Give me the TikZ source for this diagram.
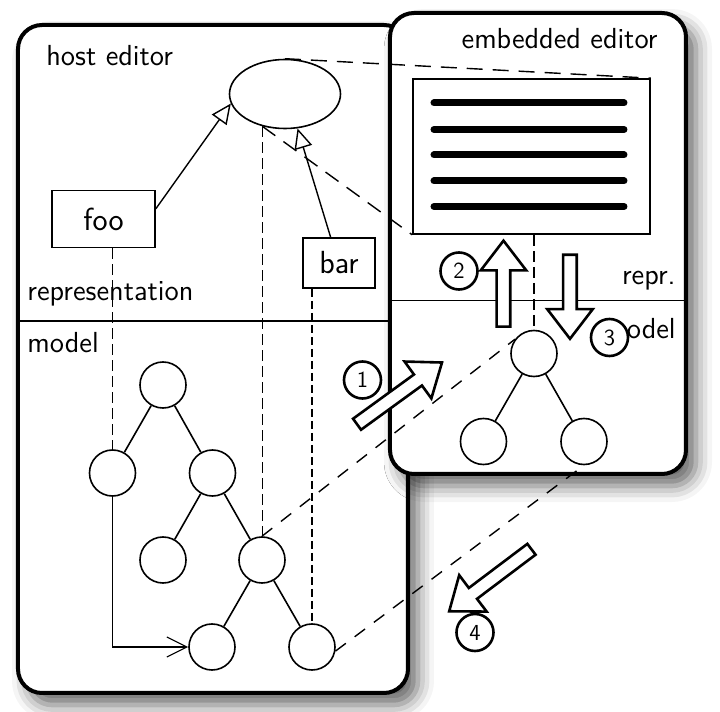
\documentclass[tikz,border=0pt]{standalone}
\usepackage{fontspec}
\usepackage{tikz}
\usetikzlibrary{positioning,shapes.geometric,shapes.arrows,arrows.meta,shadows.blur}

\begin{document}
\begin{tikzpicture}[
		x=0.5pt, y=-0.5pt,
		% Define the styles used below
		every node/.style={font=\sffamily\fontsize{14.5}{17}\selectfont},
		editor box/.style={draw, line width=2pt, fill=white, rounded corners=12pt,
			blur shadow={shadow xshift=5pt, shadow yshift=-6pt, shadow blur radius=8pt, shadow opacity=60}},
		caption/.style={inner sep=0pt},
		tree node/.style={circle, draw, line width=0.8pt, minimum size=23pt, inner sep=0pt},
		label box/.style={rectangle, draw, line width=0.8pt, inner sep=0pt, font=\sffamily\fontsize{16}{18}\selectfont},
		step arrow/.style={single arrow, draw, fill=white, line width=1.3pt, minimum width=22pt,
			single arrow head extend=8pt, single arrow tip angle=75, inner xsep=0pt, inner ysep=2.75pt, anchor=tail},
		step num/.style={circle, draw, fill=white, line width=1.3pt, minimum size=18.5pt, inner sep=0pt,
			font=\sffamily\fontsize{11.5}{13}\selectfont},
		link/.style={line width=0.6pt, dash pattern=on 5.5pt off 2.5pt},
		map link/.style={line width=1pt, dash pattern=on 4pt off 2pt},
		view link/.style={line width=0.7pt, dash pattern=on 8pt off 5pt},
		tree link/.style={line width=0.7pt, dash pattern=on 6.5pt off 5.5pt},
		inherits/.style={line width=0.7pt, -{Triangle[open, length=10pt, width=9pt]}}
	]
	\useasboundingbox (0,0) rectangle (720,712);
	
	% --- host editor ---
	\draw[editor box] (18,25) rectangle (408,693);
	\draw[line width=0.8pt] (18,321) -- (408,321);
	\node[caption, anchor=base west] (hosttitle) at (46,66) {host editor};
	\node[caption, anchor=base west] (hostrepr) at (27,300) {representation};
	\node[caption, anchor=base west] (hostmodel) at (27,353) {model};
	
	% --- embedded editor ---
	\draw[editor box] (390,13) rectangle (686,474);
	\draw[line width=0.8pt] (390,300.5) -- (686,300.5);
	\node[caption, anchor=base east] (embtitle) at (658,48) {embedded editor};
	\node[caption, anchor=base east] (embrepr) at (676,285) {repr.};
	\node[caption, anchor=base east] (embmodel) at (676,339) {model};
	
	% --- representation nodes ---
	\node[ellipse, draw, line width=0.8pt, minimum width=55.5pt, minimum height=34.5pt, inner sep=0pt] (view) at (285,94) {};
	\node[label box, minimum width=51.5pt, minimum height=28.5pt] (foo) at (103.5,219) {foo};
	\node[label box, minimum width=36pt, minimum height=25pt] (bar) at (339,263) {bar};
	\node[draw, line width=0.8pt, fill=white, minimum width=118.5pt, minimum height=77.5pt, inner sep=0pt] (screen) at (531.5,156.5) {};
	\foreach \y in {103,129.5,155,181,206.5}
		\draw[line width=3.5pt, line cap=round] (434,\y) -- (624,\y);
	
	% --- model trees ---
	\node[tree node] (h1) at (163,385) {};
	\node[tree node] (h2) at (112.5,473) {};
	\node[tree node] (h3) at (212.5,473) {};
	\node[tree node] (h4) at (163,560) {};
	\node[tree node] (h5) at (262,560) {};
	\node[tree node] (h6) at (212,647) {};
	\node[tree node] (h7) at (312,647) {};
	\node[tree node] (e1) at (534,353.5) {};
	\node[tree node] (e2) at (483.5,441.5) {};
	\node[tree node] (e3) at (584,441.5) {};
	
	% --- Draw the edges ---
	\foreach \a/\b in {h1/h2, h1/h3, h3/h4, h3/h5, h5/h6, h5/h7, e1/e2, e1/e3}
		\draw[line width=0.8pt] (\a) -- (\b);
	\draw[line width=0.6pt, -{Straight Barb[length=10pt, width=10pt]}] (h2.south) |- (h6.west);
	\draw[inherits] (foo.11) -- (view.190);
	\draw[inherits] (bar.108) -- (view.-70);
	
	% --- dashed links ---
	\draw[link] (foo.south -| h2.north) -- (h2.north);
	\draw[link] (view.235) -- (view.235 |- h5.north);
	\draw[map link] (bar.south -| h7.north) -- (h7.north);
	\draw[link] (screen.south -| e1.north) -- (e1.north);
	\draw[view link] (view.north) -- (screen.north east);
	\draw[view link] (view.235) -- (screen.south west);
	\draw[tree link] (h5.north) -- (e1.143);
	\draw[tree link] (h7.-10) -- (e3.south);
	
	% --- steps ---
	\node[step arrow, rotate=36, minimum height=52.5pt] (a1) at (356,425) {};
	\node[step arrow, rotate=90, minimum height=43pt] (a2) at (503.5,328) {};
	\node[step arrow, rotate=-90, minimum height=42pt] (a3) at (570,253.5) {};
	\node[step arrow, rotate=217, minimum height=51.5pt] (a4) at (532.5,548.5) {};
	\node[step num] (n1) at (362.5,380) {1};
	\node[step num] (n2) at (459,271) {2};
	\node[step num] (n3) at (609.5,337.5) {3};
	\node[step num] (n4) at (475,632.5) {4};
\end{tikzpicture}
\end{document}
